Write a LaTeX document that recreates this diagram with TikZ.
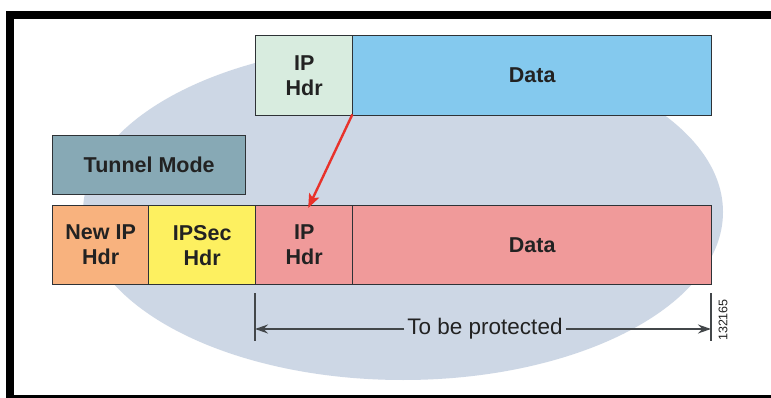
\documentclass[tikz,border=0pt]{standalone}
\usepackage{fontspec}
\setmainfont{Liberation Sans}
\usetikzlibrary{arrows.meta}
\definecolor{ellcol}{HTML}{CDD7E5}
\definecolor{hdrgreen}{HTML}{D8ECDF}
\definecolor{datablue}{HTML}{84C9EE}
\definecolor{tunnelcol}{HTML}{87A9B5}
\definecolor{newipcol}{HTML}{F8B27E}
\definecolor{ipseccol}{HTML}{FDF060}
\definecolor{pinkcol}{HTML}{F09A9A}
\definecolor{edgecol}{HTML}{2E3236}
\definecolor{txtcol}{HTML}{222222}
\definecolor{arrowred}{HTML}{E8322B}
\tikzset{
  pkt/.style={draw=edgecol, line width=1.4pt, anchor=north west, inner sep=0pt,
    align=center, text=txtcol, font=\bfseries\fontsize{21.5}{25}\selectfont},
  dimline/.style={draw=edgecol!90, line width=1.4pt},
}
\begin{document}
\begin{tikzpicture}[x=1pt, y=-1pt]
\useasboundingbox (0,0) rectangle (771,398);
\clip (0,0) rectangle (771,398);
% frame
\fill[white] (0,0) rectangle (771,398);
\fill[black] (6,11) rectangle (780,19);
\fill[black] (6,11) rectangle (14,398);
\fill[black] (6,394.5) rectangle (780,398);
% shaded region
\fill[ellcol] (403,212) ellipse [x radius=320pt, y radius=168pt];
% original packet
\node[pkt, fill=hdrgreen, minimum width=97pt, minimum height=80pt] (iphA) at (255,35) {IP\\Hdr};
\node[pkt, fill=datablue, minimum width=359pt, minimum height=80pt] (dataA) at (352,35) {Data};
% mode label
\node[pkt, fill=tunnelcol, minimum width=193pt, minimum height=59pt] (mode) at (52,135) {Tunnel Mode};
% encapsulated packet
\node[pkt, fill=newipcol, minimum width=96pt, minimum height=79pt] (newip) at (52,205) {New IP\\Hdr};
\node[pkt, fill=ipseccol, minimum width=107pt, minimum height=79pt] (ipsec) at (148,205) {IPSec\\Hdr};
\node[pkt, fill=pinkcol, minimum width=97pt, minimum height=79pt] (iphB) at (255,205) {IP\\Hdr};
\node[pkt, fill=pinkcol, minimum width=359pt, minimum height=79pt] (dataB) at (352,205) {Data};
% header copied into the new packet
\draw[arrowred, line width=2.4pt, -{Stealth[length=14pt, width=11pt, inset=3pt]}]
  ([xshift=-1pt, yshift=2pt]iphA.south east) -- ([xshift=4pt, yshift=-3pt]iphB.north);
% protected range
\coordinate (pl) at (255,329);
\coordinate (pr) at (711,329);
\coordinate (plt) at (255,293);
\coordinate (plb) at (255,341);
\coordinate (prt) at (711,293);
\coordinate (prb) at (711,341);
\draw[dimline] (plt) -- (plb);
\draw[dimline] (prt) -- (prb);
\node[text=txtcol, font=\fontsize{22.5}{26}\selectfont, inner sep=3pt] (prot) at (485,329) {To be protected};
\draw[dimline, -{Stealth[length=13pt, width=9pt]}] (prot.west) -- (pl);
\draw[dimline, -{Stealth[length=13pt, width=9pt]}] (prot.east) -- (pr);
\node[rotate=90, text=txtcol, font=\fontsize{12.5}{14}\selectfont, inner sep=0pt] (figid) at (723,320) {132165};
\end{tikzpicture}
\end{document}
